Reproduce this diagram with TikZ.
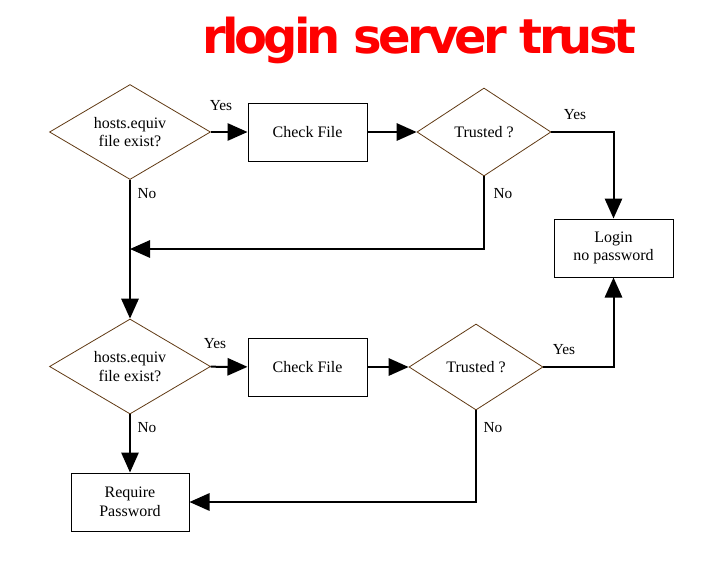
\documentclass[tikz,border=0pt]{standalone}
\usepackage{fontspec}
\setmainfont{Liberation Serif}
\newfontfamily\titlefont{DejaVu Sans}[LetterSpace=-8]
\usetikzlibrary{shapes.geometric,arrows.meta}
\definecolor{brownline}{RGB}{96,57,19}

\begin{document}
\begin{tikzpicture}[x=0.75pt,y=-0.75pt,
		decision/.style={diamond,draw=brownline,line width=0.6pt,inner sep=0pt,aspect=1.7,align=center,font=\fontsize{12}{14}\selectfont},
		stepbox/.style={rectangle,draw,line width=0.75pt,inner sep=0pt,minimum width=89.25pt,minimum height=43.5pt,align=center,font=\fontsize{12}{14}\selectfont},
		link/.style={line width=1.5pt,-{Triangle[length=15pt,width=13pt]}},
		answer/.style={font=\fontsize{11.5}{13}\selectfont,inner sep=0pt}]
		\useasboundingbox (0,0) rectangle (725,565);
		\node[red,font=\titlefont\bfseries\fontsize{36}{40}\selectfont,anchor=base,inner sep=0pt] (title) at (419.5,53) {rlogin server trust};
		% first check
		\node[decision,minimum width=120.75pt,minimum height=71.25pt] (equiv1) at (130,132) {hosts.equiv\\file exist?};
		\node[stepbox] (check1) at (307.5,132) {Check File};
		\node[decision,minimum width=100.5pt,minimum height=66pt] (trust1) at (484,132) {Trusted ?};
		\node[stepbox] (login) at (613.5,248) {Login\\no password};
		\coordinate (join) at (130,249);
		% second check
		\node[decision,minimum width=120.75pt,minimum height=71.25pt] (equiv2) at (130,366.5) {hosts.equiv\\file exist?};
		\node[stepbox] (check2) at (307.5,367) {Check File};
		\node[decision,minimum width=100.5pt,minimum height=64.5pt] (trust2) at (476,367) {Trusted ?};
		\node[stepbox,minimum width=88.5pt] (require) at (130,502) {Require\\Password};
		% connectors
		\draw[link] (equiv1) -- (check1);
		\draw[link] (check1) -- (trust1);
		\draw[link] (trust1.east) -| (login.north);
		\draw[link] (trust1.south) |- (join);
		\draw[link] (equiv1.south) -- (equiv2.north);
		\draw[link] (equiv2) -- (check2);
		\draw[link] (check2) -- (trust2);
		\draw[link] (trust2.east) -| (login.south);
		\draw[link] (trust2.south) |- (require.east);
		\draw[link] (equiv2.south) -- (require.north);
		% labels
		\node[answer] (yes1) at (221,106) {Yes};
		\node[answer] (no1) at (147,194) {No};
		\node[answer] (yes2) at (575,115) {Yes};
		\node[answer] (no2) at (503,194) {No};
		\node[answer] (yes3) at (215,344) {Yes};
		\node[answer] (no3) at (147,428) {No};
		\node[answer] (yes4) at (564,350) {Yes};
		\node[answer] (no4) at (493,428) {No};
	\end{tikzpicture}
\end{document}
